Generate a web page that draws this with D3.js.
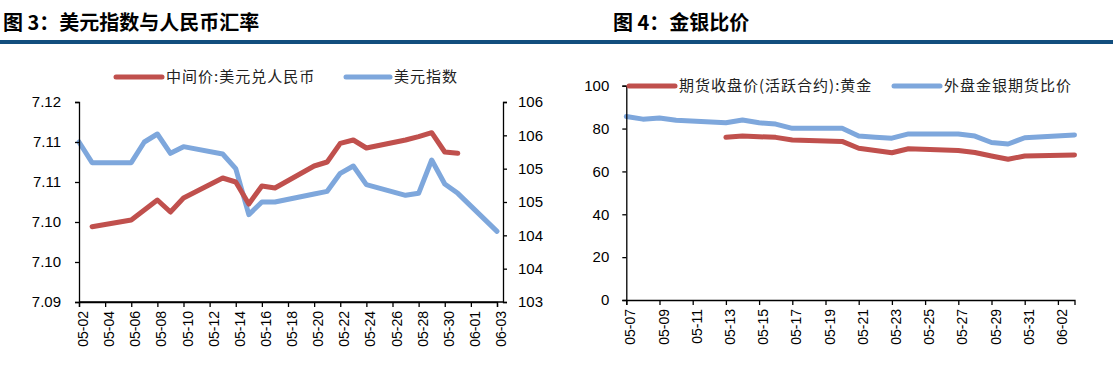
<!DOCTYPE html>
<html><head><meta charset="utf-8">
<script src="https://cdn.jsdelivr.net/npm/d3@7"></script>
<style>
body{margin:0;background:#fff;}
svg text{font-family:"Liberation Sans",Arial,sans-serif;}
.cjk{font-family:"Noto Sans CJK SC","Noto Sans",sans-serif;}
</style></head>
<body><svg id="c" width="1113" height="365"></svg>
<script>
// ---------- Chart 3 data ----------
const fxDates = ["05-03","05-06","05-07","05-08","05-09","05-10","05-13","05-14","05-15","05-16","05-17","05-20","05-21","05-22","05-23","05-24","05-27","05-28","05-29","05-30","05-31"];
const fxValues = [7.1013,7.1023,7.1038,7.1053,7.1035,7.1056,7.1086,7.1080,7.1047,7.1074,7.1071,7.1104,7.1110,7.1138,7.1143,7.1131,7.1143,7.1148,7.1154,7.1125,7.1123];
const dxyDates = ["05-02","05-03","05-06","05-07","05-08","05-09","05-10","05-13","05-14","05-15","05-16","05-17","05-20","05-21","05-22","05-23","05-24","05-27","05-28","05-29","05-30","05-31","06-03"];
const dxyValues = [105.40,105.09,105.09,105.40,105.52,105.23,105.33,105.22,105.00,104.31,104.50,104.50,104.62,104.66,104.93,105.04,104.76,104.60,104.63,105.13,104.77,104.63,104.06];
const c3TickDates = ["05-02","05-04","05-06","05-08","05-10","05-12","05-14","05-16","05-18","05-20","05-22","05-24","05-26","05-28","05-30","06-01","06-03"];
const c3LeftTicks = [7.09,7.096,7.102,7.108,7.114,7.12];
const c3LeftLabels = ["7.09","7.10","7.10","7.11","7.11","7.12"];
const c3RightTicks = [103,103.5,104,104.5,105,105.5,106];
const c3RightLabels = ["103","104","104","105","105","106","106"];
const c3Series = ["中间价:美元兑人民币","美元指数"];

// ---------- Chart 4 data ----------
const goldDates = ["05-13","05-14","05-15","05-16","05-17","05-20","05-21","05-22","05-23","05-24","05-27","05-28","05-29","05-30","05-31","06-03"];
const goldValues = [75.9,76.5,76.2,75.9,74.7,74.0,70.8,69.8,68.7,70.6,69.8,68.8,67.2,65.7,67.2,67.7];
const ratioDates = ["05-07","05-08","05-09","05-10","05-13","05-14","05-15","05-16","05-17","05-20","05-21","05-22","05-23","05-24","05-27","05-28","05-29","05-30","05-31","06-03"];
const ratioValues = [85.6,84.4,84.9,83.9,82.7,84.0,82.7,82.1,80.1,80.1,76.5,76.0,75.5,77.5,77.5,76.5,73.5,72.8,75.7,77.0];
const c4TickDates = ["05-07","05-09","05-11","05-13","05-15","05-17","05-19","05-21","05-23","05-25","05-27","05-29","05-31","06-02"];
const c4YTicks = [0,20,40,60,80,100];
const c4Series = ["期货收盘价(活跃合约):黄金","外盘金银期货比价"];

const titles = ["图 3：美元指数与人民币汇率","图 4：金银比价"];

const RED = "#C0504D", BLUE = "#7EA7DC";
const pd = s => { const [m,d] = s.split("-").map(Number); return new Date(Date.UTC(2024, m-1, d)); };
const svg = d3.select("#c");

// header
svg.append("rect").attr("x",0).attr("y",40).attr("width",1113).attr("height",4).attr("fill","#124E7E");
svg.append("text").attr("class","cjk").attr("x",3).attr("y",30).attr("font-size",20).attr("font-weight","bold").text(titles[0]);
svg.append("text").attr("class","cjk").attr("x",613).attr("y",30).attr("font-size",20).attr("font-weight","bold").text(titles[1]);

function styleAxis(g){
  g.selectAll("path,line").attr("stroke","#000").attr("stroke-width",1.3);
  g.selectAll("text").attr("fill","#000");
}
function xAxis(g, x, ticks, y){
  const a = g.append("g").attr("transform",`translate(0,${y})`)
    .call(d3.axisBottom(x).tickValues(ticks.map(pd)).tickSizeOuter(0).tickSize(5).tickFormat((d,i)=>ticks[i]));
  a.selectAll(".tick text").attr("font-size",14).attr("transform","rotate(-90)")
    .attr("text-anchor","end").attr("dx","-0.55em").attr("dy","-0.08em").attr("x",0).attr("y",9)
    .style("dominant-baseline","middle");
  a.selectAll(".tick text").attr("x",-9).attr("y",0).attr("dx",null).attr("dy","0.35em");
  styleAxis(a);
}
const line = (x,y) => d3.line().x(d=>x(d[0])).y(d=>y(d[1]));
function drawSeries(g, x, y, dates, vals, color){
  const data = dates.map((d,i)=>[pd(d), vals[i]]);
  g.append("path").datum(data).attr("d", line(x,y)).attr("fill","none").attr("stroke",color)
    .attr("stroke-width",5).attr("stroke-linejoin","round").attr("stroke-linecap","round");
}
function legendItem(g, x1, x2, y, color, label){
  g.append("line").attr("x1",x1).attr("x2",x2).attr("y1",y).attr("y2",y).attr("stroke",color)
    .attr("stroke-width",5).attr("stroke-linecap","round");
  g.append("text").attr("class","cjk").attr("x",x2+4).attr("y",y).attr("dy","0.35em")
    .attr("font-size",15).attr("letter-spacing",1).attr("fill","#222").text(label);
}

// ---------- Chart 3 ----------
{
  const g = svg.append("g");
  const d0 = pd("05-02"), d1 = pd("06-03");
  const x = d3.scaleUtc().domain([d0, d1]).range([79, 497]);
  const yL = d3.scaleLinear().domain([7.09, 7.12]).range([302, 102]);
  const yR = d3.scaleLinear().domain([103, 106]).range([302, 102]);
  drawSeries(g, x, yR, dxyDates, dxyValues, BLUE);
  drawSeries(g, x, yL, fxDates, fxValues, RED);
  const la = g.append("g").attr("transform","translate(79,0)")
    .call(d3.axisLeft(yL).tickValues(c3LeftTicks).tickSizeOuter(0).tickSize(4).tickPadding(14).tickFormat((d,i)=>c3LeftLabels[i]));
  la.selectAll("text").attr("font-size",15);
  styleAxis(la);
  const ra = g.append("g").attr("transform","translate(503,0)")
    .call(d3.axisRight(yR).tickValues(c3RightTicks).tickSizeOuter(0).tickSize(4).tickPadding(11).tickFormat((d,i)=>c3RightLabels[i]));
  ra.selectAll("text").attr("font-size",15);
  styleAxis(ra);
  // x axis spanning full plot
  g.append("line").attr("x1",79).attr("x2",503).attr("y1",302).attr("y2",302).attr("stroke","#000").attr("stroke-width",1.3);
  xAxis(g, x, c3TickDates, 302);
  legendItem(g, 116, 162, 77, RED, c3Series[0]);
  legendItem(g, 346, 390, 77, BLUE, c3Series[1]);
}

// ---------- Chart 4 ----------
{
  const g = svg.append("g");
  const d0 = pd("05-07"), d1 = pd("06-03");
  const x = d3.scaleUtc().domain([d0, d1]).range([626.3, 1074.5]);
  const y = d3.scaleLinear().domain([0, 100]).range([300, 85.7]);
  drawSeries(g, x, y, ratioDates, ratioValues, BLUE);
  drawSeries(g, x, y, goldDates, goldValues, RED);
  const ya = g.append("g").attr("transform","translate(626.3,0)")
    .call(d3.axisLeft(y).tickValues(c4YTicks).tickSizeOuter(0).tickSize(4).tickPadding(13));
  ya.selectAll("text").attr("font-size",15);
  styleAxis(ya);
  xAxis(g, x, c4TickDates, 300);
  legendItem(g, 629, 675, 86, RED, c4Series[0]);
  legendItem(g, 894, 940, 86, BLUE, c4Series[1]);
}
</script></body></html>
